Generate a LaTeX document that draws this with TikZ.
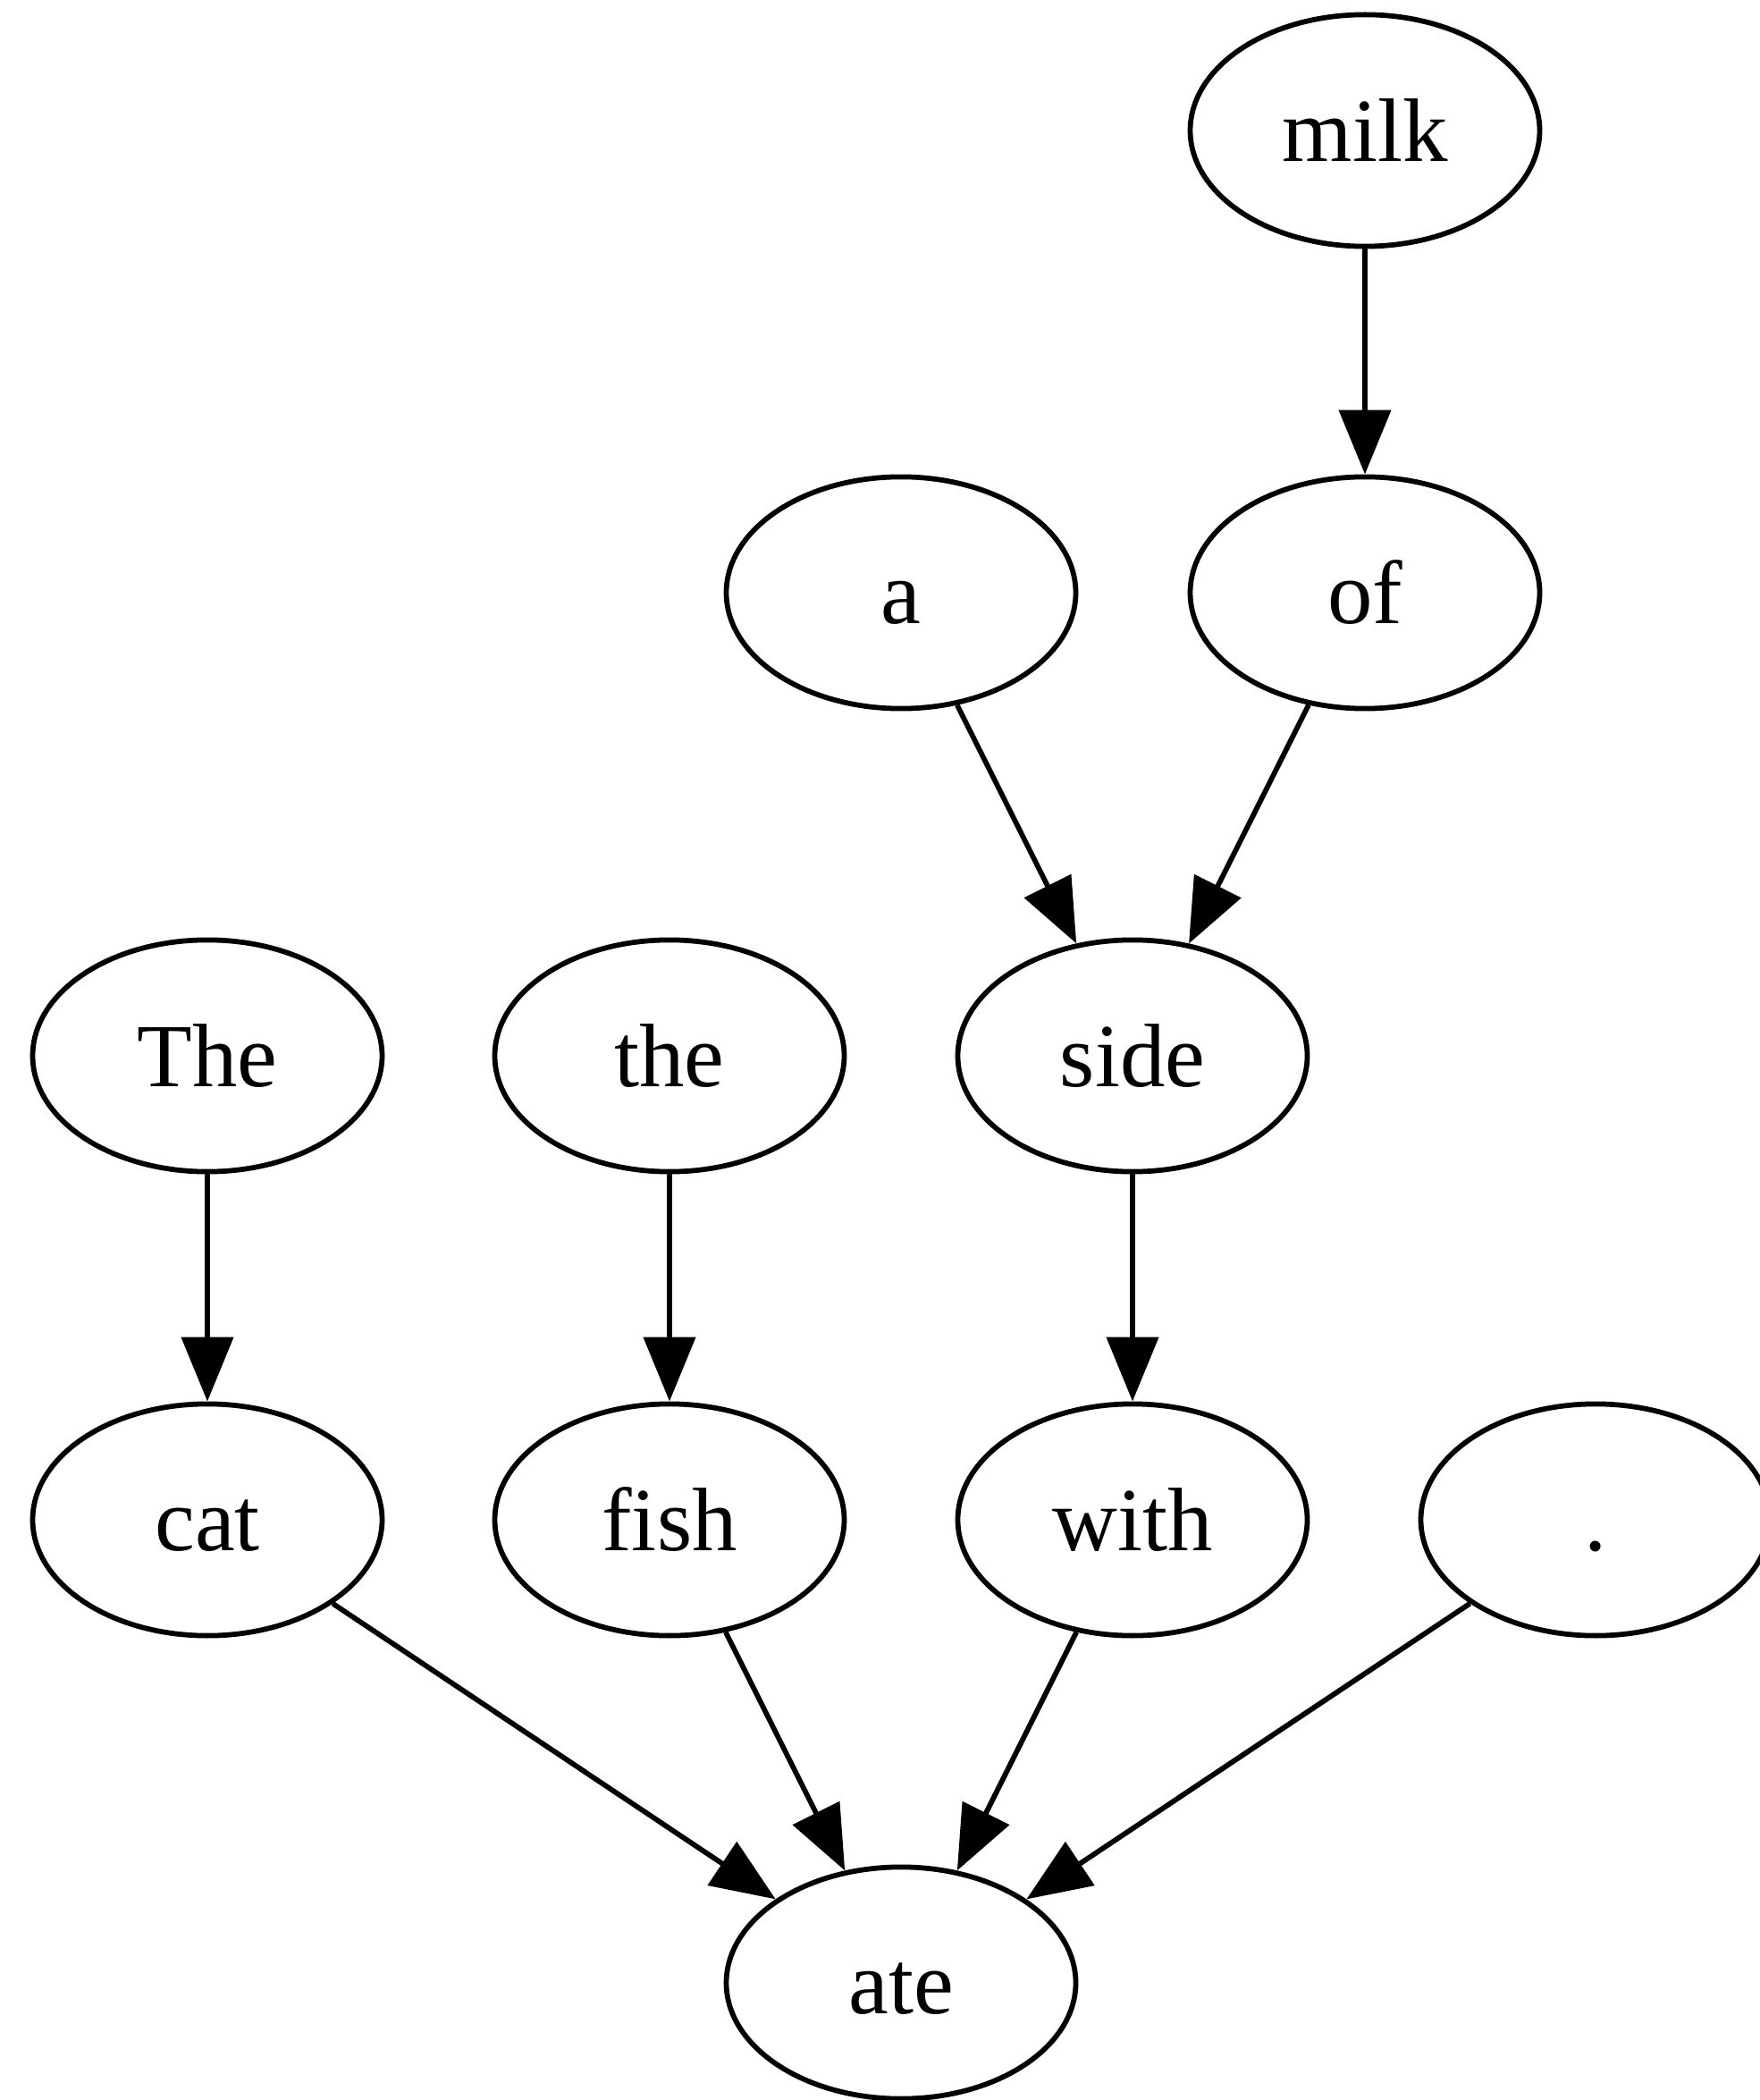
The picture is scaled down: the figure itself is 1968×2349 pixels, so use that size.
\documentclass[tikz,border=0pt]{standalone}
\usepackage{fontspec}
\setmainfont{Liberation Serif}
\usetikzlibrary{arrows.meta,shapes.geometric}
\begin{document}
\begin{tikzpicture}[x=0.138889pt, y=-0.138889pt,
  word/.style={draw, ellipse, line width=0.8pt, minimum width=54.3pt, minimum height=36pt,
    inner sep=0pt, text height=11.5pt, text depth=2pt,
    font=\fontsize{14}{16}\selectfont},
  dep/.style={line width=0.8pt, -{Triangle[length=10pt, width=8pt]}}]
  \useasboundingbox (0,0) rectangle (1968,2349);
  % words of the sentence
  \node[word] (milk) at (1527,146)  {milk};
  \node[word] (a)    at (1008,663)  {a};
  \node[word] (of)   at (1527,663)  {of};
  \node[word] (The)  at (232,1181)  {The};
  \node[word] (the)  at (749,1181)  {the};
  \node[word] (side) at (1267,1181) {side};
  \node[word] (cat)  at (232,1700)  {cat};
  \node[word] (fish) at (749,1700)  {fish};
  \node[word] (with) at (1267,1700) {with};
  \node[word] (dot)  at (1785,1700) {.};
  \node[word] (ate)  at (1008,2218) {ate};
  % dependency arrows
  \draw[dep] (milk) -- (of);
  \draw[dep] (a) -- (side);
  \draw[dep] (of) -- (side);
  \draw[dep] (The) -- (cat);
  \draw[dep] (the) -- (fish);
  \draw[dep] (side) -- (with);
  \draw[dep] (cat) -- (ate);
  \draw[dep] (fish) -- (ate);
  \draw[dep] (with) -- (ate);
  \draw[dep] (dot) -- (ate);
\end{tikzpicture}
\end{document}
